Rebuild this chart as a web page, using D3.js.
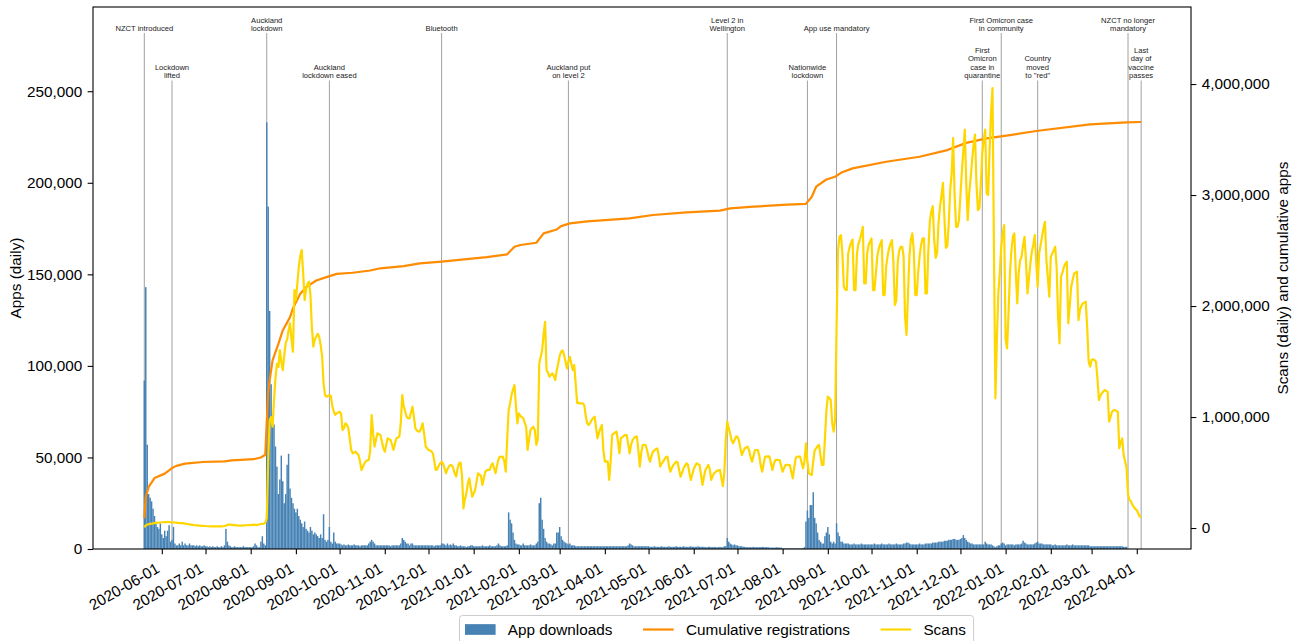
<!DOCTYPE html>
<html>
<head>
<meta charset="utf-8">
<script src="https://cdn.jsdelivr.net/npm/d3@7"></script>
<style>
body { margin: 0; background: #fff; }
svg { display: block; font-family: "Liberation Sans", Arial, sans-serif; }
</style>
</head>
<body>
<svg width="1300" height="641"></svg>
<script>
// first day of each block of daily values below
var monthStarts = ["2020-05-20", "2020-06-01", "2020-07-01", "2020-08-01", "2020-09-01", "2020-10-01",
  "2020-11-01", "2020-12-01", "2021-01-01", "2021-02-01", "2021-03-01", "2021-04-01", "2021-05-01",
  "2021-06-01", "2021-07-01", "2021-08-01", "2021-09-01", "2021-10-01", "2021-11-01", "2021-12-01",
  "2022-01-01", "2022-02-01", "2022-03-01", "2022-04-01"];

// daily app downloads, thousands
var downloadsK = [
  [92,143,57,30,28,26,22,18,14,12,11,14],
  [8,6,10,7,10,13,4,5,12,3,2,2,3,2,4,2,3,2,2,3,2,2,2,1.5,2,1.5,2,1.5,1.5,2],
  [1.5,1.5,1,1.5,1,1.5,1,1,1.5,1,1,1.5,1,2,11,4,2,1.5,1,1,1.5,1,1,1,1,1,1.5,1,1,1,1],
  [1,1,1.5,3,2,1,1,4,7,3,2,233,187,130,90,70,68,56,45,30,38,51,37,25,30,46,52,33,28,25,22],
  [20,22,18,16,14,12,15,11,10,9,12,10,8,9,8,7,6,8,6,19,5,4,5,12,4,3,9,4,3,3],
  [3,2.5,2,2.5,2,2,2.5,2,2,2,2.5,2,2,2,1.5,2,2,2,2,2,3,4,5,4,3,2,2,2,2,2,2],
  [2,2,2,2,1.5,2,2,2,2,2,2,3,6,5,4,3,3,2,3,3,2,2,2,2,2,2,2,2,2,2],
  [2,2,2,2,1.5,2,2,2,2,3,3,2.5,2,3,2,2.5,2,3,2,2,1.5,1.5,2,1.5,1.5,1.5,1,1.5,1.5,2,2],
  [1.5,1.5,1.5,1.5,1.5,1.5,2,1.5,1.5,1.5,1.5,2,1.5,1.5,1.5,1.5,2,3,2,1.5,1.5,1.5,1.5,2,20,16,14,9,5,3,2.5],
  [2.5,2,2,3,2,2,2,2,2.5,2,2,2,3,4,25,28,16,11,6,4,3,3,2.5,2,3,3,9,9],
  [12,7,5,4,3.5,3,2.5,3,2,2,2,1.5,1.5,1.5,1.5,1.5,1.5,1.5,1.5,1.5,1.5,1.5,1.5,1.5,1.5,1.5,1.5,1.5,1.5,1.5,1.5],
  [1.5,1.5,1.5,1.5,1.5,1.5,1.5,1.5,1.5,1.5,1.5,1.5,1.5,1.5,1.5,1.5,2,3,2.5,2,1.5,1.5,1.5,1.5,1.5,1.5,1.5,1.5,1.5,1.5],
  [1.5,1.2,1.2,1.2,1.5,1.2,1.2,1.2,1.2,1.5,1.2,1.2,1.2,1.2,1.5,1.2,1.2,1.2,1.2,1.5,1.2,1.2,1.2,1.2,1.5,1.2,1.2,1.2,1.2,1.5,1.2],
  [1.2,1.2,1.2,1.5,1.2,1.2,1.2,1.2,1,1,1.2,1.2,1,1,1.2,1,1,1,1.2,1,1,1.5,1.5,6,4,3,2.5,2,2.5,2],
  [2,1.5,1.5,1.5,1.2,1.2,1,1,1,1,1,1.2,1,1,1,1,1,1.2,1,1,1,1,0.8,0.8,0.8,0.8,0.8,1,0.8,0.8,0.8],
  [0.3,0.3,0.3,0.3,0.3,0.3,0.3,0.3,0.3,0.3,0.3,0.3,0.3,0.3,0.5,1,15,21,17,24,24,31,17,14,9,5,4,3,3,7,9],
  [12,8,4,3,4,3,14,9,7,4,4,3,3,3,3,2.5,2.5,2.5,3,2.5,2.5,2.5,2.5,3,2.5,2.5,2.5,2.5,2.5,2.5],
  [2.5,2.5,3,2.5,2.5,2.5,2.5,3,2.5,2.5,2.5,2.5,3,2.5,2.5,2.5,2.5,3,2.5,2.5,2.5,2.5,3,3,3.5,3.5,3,2.5,2.5,2.5,2.5],
  [2.5,2.5,3,2.5,2.5,2.5,3,3,3,3,3,3.5,3.5,3.5,3.5,4,4,4,4,4.5,4.5,4.5,5,5,5,5.5,5.5,5,5,5],
  [5.5,6,7.6,6,5,4,3.5,3,3,2.5,2.5,2.5,2.5,2.5,2.5,2.5,2.5,4,3,2.5,2.5,2.5,2,1.5,1,1.5,2,2,3,3.5,3],
  [2,2.5,2.5,2.5,2.5,2.5,2,2.5,2.5,2.5,2.5,3,4.5,3.5,3,2.5,2.5,2.5,2.5,2.5,3,3.5,4,3,3,3,2.5,2.5,2.5,2.5,2.5],
  [2.5,2,2,2.5,2,2,2,2,2,2,2,2.5,2,2,2,2.5,2,2,2,2,2,2,2,2,2,2,2,1.5],
  [1.5,1.5,1.5,1.5,1.5,1.5,1.5,1.5,1.5,1.5,1.5,1.5,1.5,1.5,1.5,1.5,1.5,1.5,1.5,1.5,1.5,1.5,1.2,1.2,1.2,0,0,0,0,0,0],
  [0,0,0,0]
];

// daily scans, thousands
var scansK = [
  [5,25,30,35,38,40,42,44,46,48,48,50],
  [52,52,54,54,55,54,52,50,52,50,48,46,45,45,44,42,40,38,35,33,30,28,26,25,24,22,22,20,20,18],
  [18,16,16,15,15,15,14,14,14,14,15,15,16,18,22,28,32,30,28,26,26,24,24,22,22,22,24,24,25,26,26],
  [26,28,30,28,26,30,34,36,38,40,45,90,600,973,1000,913,1150,1350,1480,1450,1604,1500,1423,1550,1664,1700,1780,1844,1700,1588,2144],
  [2054,2200,2350,2450,2505,2300,2054,2150,2200,2219,2100,1800,1634,1700,1724,1750,1724,1650,1550,1300,1200,1183,1190,1198,1190,1100,1050,1020,1033,1040],
  [1048,1030,883,900,943,930,900,800,700,673,680,688,670,658,600,523,550,583,600,610,613,700,1018,850,733,800,853,845,838,780,720],
  [688,750,808,800,793,750,703,760,808,815,823,950,1198,1100,1050,1003,990,988,1040,1093,1000,898,880,870,868,900,943,850,740,718],
  [703,700,690,673,600,523,530,560,583,598,580,540,493,530,555,568,565,540,490,463,540,583,590,470,177,260,312,400,448,360,282],
  [310,342,420,493,480,470,388,450,508,520,525,523,560,583,540,493,560,620,643,640,643,600,508,800,1063,1124,1200,1250,1288,1100,943],
  [1033,1010,1000,990,950,913,703,800,883,900,913,880,748,800,1483,1540,1603,1750,1858,1423,1400,1363,1380,1393,1370,1333,1420,1483],
  [1550,1588,1600,1560,1500,1438,1500,1543,1480,1423,1468,1300,1124,1130,1120,1124,1124,1100,1000,940,928,950,973,990,1003,900,808,860,900,928,700],
  [598,600,598,433,600,838,850,860,868,780,673,808,820,830,838,838,760,673,750,790,810,823,823,700,553,680,748,750,748,700],
  [640,598,650,688,700,710,718,650,553,580,598,620,640,643,560,508,540,568,580,598,590,520,463,500,538,560,583,570,500,433,480],
  [530,560,583,575,568,480,388,460,523,545,568,530,433,470,493,505,515,520,523,450,378,500,800,958,900,850,790,763,790,823],
  [823,790,720,658,690,718,725,733,700,640,598,650,700,703,703,650,560,508,580,643,643,645,643,580,523,580,613,615,613,613,560],
  [508,540,568,570,568,568,500,448,550,630,643,643,643,590,538,600,763,600,493,485,478,600,700,718,740,748,650,568,568,800,1050],
  [1183,1170,1153,950,868,973,1814,2500,2624,2639,2474,2174,2150,2144,2474,2534,2570,2599,2144,2144,2474,2560,2599,2650,2714,2204,2204,2474,2550,2580],
  [2609,2144,2144,2300,2450,2520,2560,2594,2099,2099,2350,2450,2520,2560,2594,2400,2009,2050,2400,2500,2534,2534,2450,1900,1739,2100,2450,2600,2654,2500,2099],
  [2099,2300,2450,2550,2609,2609,2114,2114,2500,2764,2850,2899,2600,2434,2480,2750,2899,3000,3109,2800,2524,2540,2750,3049,3200,3514,3000,2714,2714,2774],
  [3000,3214,3400,3589,3100,2774,3014,3150,3313,3450,3544,3100,2864,2880,3100,3379,3500,3589,3014,3000,3400,3739,3964,2500,1168,1700,2114,2300,2534,2650,2729],
  [1700,1618,1934,2300,2500,2624,2654,2300,2024,2300,2414,2444,2550,2624,2400,2114,2250,2384,2489,2550,2639,2400,2174,2474,2550,2624,2700,2759,2414,2250,2084],
  [2444,2474,2500,2534,2354,1900,1664,2264,2300,2354,2380,2399,1844,2000,2174,2234,2294,2300,2309,1873,1964,2000,2024,2030,2039,1800,1498,1453],
  [1513,1520,1513,1498,1350,1153,1190,1213,1230,1243,1235,1228,958,1000,1048,1060,1063,1055,1048,718,770,808,658,600,538,300,253,240,208,190,170],
  [163,130,103,97]
];

// cumulative registrations, millions
var cumDates = ["2020-05-20","2020-05-21","2020-05-23","2020-05-27","2020-06-03","2020-06-08","2020-06-11",
  "2020-06-17","2020-06-29","2020-07-14","2020-07-19","2020-08-03","2020-08-08","2020-08-11","2020-08-12",
  "2020-08-13","2020-08-14","2020-08-16","2020-08-20","2020-08-23","2020-08-28","2020-08-30","2020-09-04",
  "2020-09-08","2020-09-15","2020-09-22","2020-09-29","2020-10-10","2020-10-22","2020-10-29","2020-11-14",
  "2020-11-25","2020-12-10","2021-01-10","2021-01-24","2021-01-29","2021-02-02","2021-02-13","2021-02-18",
  "2021-02-27","2021-03-02","2021-03-08","2021-03-20","2021-04-18","2021-05-04","2021-05-27","2021-06-19",
  "2021-06-26","2021-07-12","2021-08-04","2021-08-17","2021-08-21","2021-08-24","2021-08-31","2021-09-06",
  "2021-09-10","2021-09-18","2021-10-11","2021-11-03","2021-11-22","2021-12-05","2021-12-19","2022-01-04",
  "2022-01-22","2022-02-28","2022-03-25","2022-04-04"];
var cumMillions = [0.087,0.28,0.37,0.45,0.49,0.54,0.56,0.58,0.595,0.60,0.61,0.62,0.635,0.66,0.95,1.22,1.33,
  1.51,1.66,1.78,1.90,1.98,2.11,2.17,2.23,2.26,2.29,2.30,2.32,2.34,2.36,2.385,2.40,2.44,2.466,2.534,2.55,
  2.57,2.655,2.69,2.72,2.745,2.763,2.79,2.82,2.844,2.86,2.88,2.895,2.913,2.92,2.985,3.075,3.14,3.165,3.20,
  3.24,3.30,3.345,3.405,3.47,3.51,3.54,3.577,3.637,3.655,3.658];

var eventDates = ["2020-05-20","2020-06-08","2020-08-12","2020-09-24","2020-12-10","2021-03-07","2021-06-24",
  "2021-08-18","2021-09-07","2021-12-16","2021-12-29","2022-01-23","2022-03-26","2022-04-04"];
var eventLabels = ["NZCT introduced", "Lockdown\nlifted", "Auckland\nlockdown", "Auckland\nlockdown eased",
  "Bluetooth", "Auckland put\non level 2", "Level 2 in\nWellington", "Nationwide\nlockdown", "App use mandatory",
  "First\nOmicron\ncase in\nquarantine", "First Omicron case\nin community", "Country\nmoved\nto \"red\"",
  "NZCT no longer\nmandatory", "Last\nday of\nvaccine\npasses"];
var eventRows = [0, 1, 0, 1, 0, 1, 0, 1, 0, 1, 0, 1, 0, 1];

var leftTicks = [0, 50000, 100000, 150000, 200000, 250000];
var rightTicks = [0, 1000000, 2000000, 3000000, 4000000];
var legendLabels = ["App downloads", "Cumulative registrations", "Scans"];

var margin = {top: 7, right: 109, bottom: 92, left: 93};
var svg = d3.select("svg");
var width = +svg.attr("width") - margin.left - margin.right;
var height = +svg.attr("height") - margin.top - margin.bottom;
var fontSize = 15.3;
var tickLen = 5.35;

var g = svg.append("g")
  .attr("transform", "translate(" + margin.left + "," + margin.top + ")");

var parseDate = d3.utcParse("%Y-%m-%d");

function daily(blocks) {
  var out = [];
  blocks.forEach(function(values, i) {
    var start = parseDate(monthStarts[i]);
    values.forEach(function(v, j) {
      out.push({date: d3.utcDay.offset(start, j), value: v * 1000});
    });
  });
  return out;
}

var downloads = daily(downloadsK);
var scans = daily(scansK);
var cumulative = cumDates.map(function(d, i) {
  return {date: parseDate(d), value: cumMillions[i] * 1e6};
});

var scaleX = d3.scaleUtc()
  .domain([d3.utcHour.offset(parseDate("2020-05-20"), -845), d3.utcHour.offset(parseDate("2022-04-01"), 893)])
  .range([0, width]);
var scaleY = d3.scaleLinear()
  .domain([0, 296000])
  .range([height, 0]);
var scaleY2 = d3.scaleLinear()
  .domain([-189000, 4694000])
  .range([height, 0]);

var dayWidth = scaleX(parseDate("2021-01-02")) - scaleX(parseDate("2021-01-01"));

// event markers
var events = eventDates.map(function(d, i) {
  return {date: parseDate(d), lines: eventLabels[i].split("\n"), row: eventRows[i]};
});
var labelBase = [31 - margin.top, 78 - margin.top];
var lineTop = [33 - margin.top, 80.5 - margin.top];
var lineStep = 8.3;

g.selectAll(".event-line")
  .data(events)
  .enter().append("line")
  .attr("class", "event-line")
  .attr("x1", function(d) { return scaleX(d.date); })
  .attr("x2", function(d) { return scaleX(d.date); })
  .attr("y1", function(d) { return lineTop[d.row]; })
  .attr("y2", height)
  .attr("stroke", "#a0a0a0")
  .attr("stroke-width", 1);

var labels = g.selectAll(".event-label")
  .data(events)
  .enter().append("text")
  .attr("class", "event-label")
  .attr("text-anchor", "middle")
  .attr("font-size", 7.6)
  .attr("fill", "#222");
labels.each(function(d) {
  var t = d3.select(this);
  var n = d.lines.length;
  d.lines.forEach(function(line, i) {
    t.append("tspan")
      .attr("x", scaleX(d.date))
      .attr("y", labelBase[d.row] - (n - 1 - i) * lineStep)
      .text(line);
  });
});

// bars
g.selectAll(".bar")
  .data(downloads)
  .enter().append("rect")
  .attr("class", "bar")
  .attr("x", function(d) { return scaleX(d.date) - dayWidth / 2; })
  .attr("width", dayWidth)
  .attr("y", function(d) { return scaleY(d.value); })
  .attr("height", function(d) { return height - scaleY(d.value); })
  .attr("fill", "#4682b4");

var line2 = d3.line()
  .x(function(d) { return scaleX(d.date); })
  .y(function(d) { return scaleY2(d.value); });

g.append("path")
  .datum(cumulative)
  .attr("fill", "none")
  .attr("stroke", "#ff8c00")
  .attr("stroke-width", 2.2)
  .attr("stroke-linejoin", "round")
  .attr("d", line2);

g.append("path")
  .datum(scans)
  .attr("fill", "none")
  .attr("stroke", "#ffd700")
  .attr("stroke-width", 2.2)
  .attr("stroke-linejoin", "round")
  .attr("d", line2);

// axes
function styleAxis(sel) {
  sel.select(".domain").remove();
  sel.selectAll(".tick line").attr("stroke", "#000").attr("stroke-width", 1.1);
  sel.selectAll(".tick text").attr("fill", "#000");
  sel.attr("font-size", fontSize).attr("font-family", null);
}

g.append("g")
  .call(d3.axisLeft(scaleY).tickValues(leftTicks).tickFormat(d3.format(","))
    .tickSize(tickLen).tickPadding(tickLen))
  .call(styleAxis);

g.append("g")
  .attr("transform", "translate(" + width + ",0)")
  .call(d3.axisRight(scaleY2).tickValues(rightTicks).tickFormat(d3.format(","))
    .tickSize(tickLen).tickPadding(tickLen))
  .call(styleAxis);

var monthTicks = d3.utcMonth.range(parseDate("2020-06-01"), parseDate("2022-04-02"));
var xAxis = g.append("g")
  .attr("transform", "translate(0," + height + ")")
  .call(d3.axisBottom(scaleX).tickValues(monthTicks).tickFormat(d3.utcFormat("%Y-%m-%d"))
    .tickSize(tickLen))
  .call(styleAxis);
xAxis.selectAll(".tick text")
  .attr("y", null)
  .attr("dy", null)
  .attr("text-anchor", "end")
  .attr("transform", "translate(-1.6," + (2 * tickLen + 11.9) + ") rotate(-30)");

g.append("rect")
  .attr("width", width)
  .attr("height", height)
  .attr("fill", "none")
  .attr("stroke", "#000")
  .attr("stroke-width", 1.1);

g.append("text")
  .attr("transform", "translate(" + (16 - margin.left) + "," + (height / 2) + ") rotate(-90)")
  .attr("text-anchor", "middle")
  .attr("dy", "0.35em")
  .attr("font-size", fontSize)
  .text("Apps (daily)");

g.append("text")
  .attr("transform", "translate(" + (1283 - margin.left) + "," + (height / 2) + ") rotate(-90)")
  .attr("text-anchor", "middle")
  .attr("dy", "0.35em")
  .attr("font-size", fontSize)
  .text("Scans (daily) and cumulative apps");

// legend
var legend = svg.append("g");
var legendBox = legend.append("rect")
  .attr("x", 459.5)
  .attr("y", 615.5)
  .attr("height", 40)
  .attr("rx", 3)
  .attr("fill", "#fff")
  .attr("fill-opacity", 0.8)
  .attr("stroke", "#cccccc")
  .attr("stroke-width", 1);

var handleW = 2 * fontSize;
var lx = 465;
var baseline = 634.5;
var swatchY = 629.5;
legendLabels.forEach(function(label, i) {
  if (i === 0) {
    legend.append("rect")
      .attr("x", lx)
      .attr("y", swatchY - 0.35 * fontSize)
      .attr("width", handleW)
      .attr("height", 0.7 * fontSize)
      .attr("fill", "#4682b4");
  } else {
    legend.append("line")
      .attr("x1", lx)
      .attr("x2", lx + handleW)
      .attr("y1", swatchY)
      .attr("y2", swatchY)
      .attr("stroke", i === 1 ? "#ff8c00" : "#ffd700")
      .attr("stroke-width", 2.2);
  }
  var t = legend.append("text")
    .attr("x", lx + handleW + 0.8 * fontSize)
    .attr("y", baseline)
    .attr("font-size", fontSize)
    .text(label);
  lx = lx + handleW + 0.8 * fontSize + t.node().getComputedTextLength() + 2 * fontSize;
});
legendBox.attr("width", lx - 2 * fontSize + 0.5 * fontSize - 459.5);
</script>
</body>
</html>
